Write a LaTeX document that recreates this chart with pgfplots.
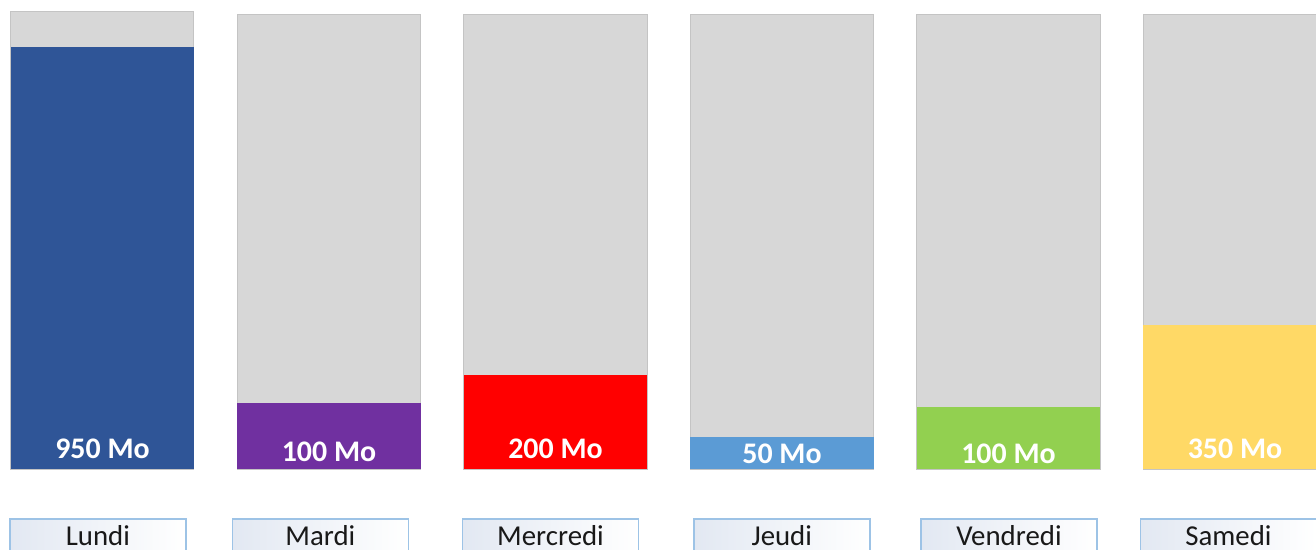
\documentclass[border=0pt]{standalone}
\usepackage{pgfplots}
\pgfplotsset{compat=1.18}
\usepackage{fontspec}
\setmainfont{Carlito}
\definecolor{bggray}{HTML}{D7D7D7}
\definecolor{bgedge}{HTML}{C4C4C4}
\definecolor{cBlue}{HTML}{2F5597}
\definecolor{cPurple}{HTML}{7030A0}
\definecolor{cRed}{HTML}{FF0000}
\definecolor{cLight}{HTML}{5B9BD5}
\definecolor{cGreen}{HTML}{92D050}
\definecolor{cYellow}{HTML}{FFD966}
\definecolor{boxedge}{HTML}{9DC3E6}
\definecolor{boxfill}{HTML}{E2E8F2}
\begin{document}
\begin{tikzpicture}
\begin{axis}[
  scale only axis,
  width=131.6mm, height=55mm,
  xmin=-0.4525, xmax=5.3576,
  ymin=-177.1, ymax=1033,
  hide axis,
  clip=false,
]
% background (full) bars
\addplot[ybar, bar width=0.808, bar shift=0pt, fill=bggray, draw=bgedge, line width=0.1mm]
  coordinates {(0,1007) (1,1000) (2,1000) (3,1000) (4,1000) (5,1000)};
% used amounts (visual heights)
\addplot[ybar, bar width=0.808, bar shift=0pt, fill=cBlue, draw=none] coordinates {(0,929)};
\addplot[ybar, bar width=0.808, bar shift=0pt, fill=cPurple, draw=none] coordinates {(1,146)};
\addplot[ybar, bar width=0.808, bar shift=0pt, fill=cRed, draw=none] coordinates {(2,208)};
\addplot[ybar, bar width=0.808, bar shift=0pt, fill=cLight, draw=none] coordinates {(3,72)};
\addplot[ybar, bar width=0.808, bar shift=0pt, fill=cGreen, draw=none] coordinates {(4,137)};
\addplot[ybar, bar width=0.808, bar shift=0pt, fill=cYellow, draw=none] coordinates {(5,318)};
% value labels
\addplot[draw=none, mark=none, nodes near coords, point meta=explicit symbolic,
  nodes near coords style={anchor=center, text=white, font=\fontsize{8.5}{10}\selectfont\bfseries, inner sep=0pt}]
  coordinates {(0,45)[950 Mo] (1,38)[100 Mo] (2,45)[200 Mo] (3,34)[50 Mo] (4,34)[100 Mo] (5,45)[350 Mo]};
% category boxes
\addplot[draw=none, mark=none, nodes near coords, point meta=explicit symbolic,
  nodes near coords style={anchor=center, draw=boxedge, line width=0.15mm,
    left color=boxfill, right color=white, minimum width=17.6mm, minimum height=4.1mm,
    text height=1.3mm, text depth=0mm, inner sep=0pt, text=black!90,
    font=\fontsize{8.2}{10}\selectfont}]
  coordinates {(-0.020,-154)[Lundi] (0.962,-154)[Mardi] (1.978,-154)[Mercredi] (2.999,-154)[Jeudi] (4.002,-154)[Vendredi] (4.971,-154)[Samedi]};
\coordinate (bl) at (rel axis cs:0,0);
\coordinate (tr) at (rel axis cs:1,1);
\end{axis}
\pgfresetboundingbox
\path[use as bounding box] (bl) rectangle (tr);
\end{tikzpicture}
\end{document}
